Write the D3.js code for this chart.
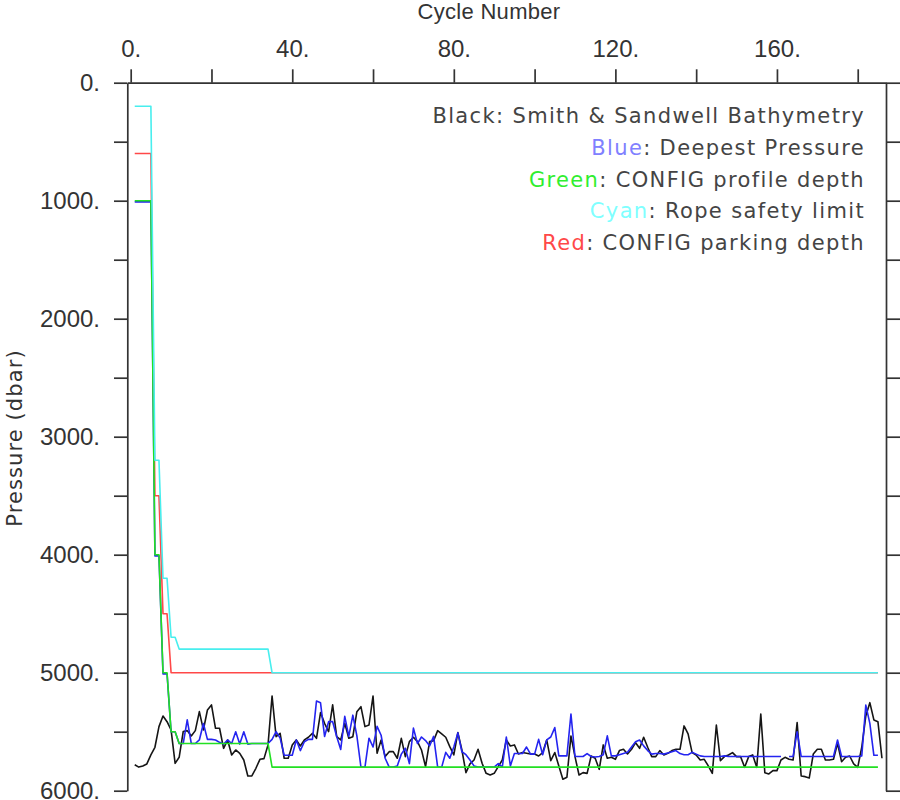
<!DOCTYPE html>
<html><head><meta charset="utf-8">
<script src="https://cdn.jsdelivr.net/npm/d3@7"></script>
<style>body{margin:0;background:#fff} svg{display:block}</style>
</head><body><svg id="chart" width="900" height="800"></svg>
<script>
// ---- data (cycle number = index + 1) ----
const bathymetry = [
 5780,5800,5790,5773,5697,5632,5457,5367,5415,5485, 5768,5717,5499,5491,5536,5491,5330,5485,5316,5273,
 5471,5471,5641,5570,5697,5655,5683,5740,5875,5875, 5810,5734,5728,5612,5197,5542,5514,5725,5725,5612,
 5570,5621,5570,5547,5514,5556,5338,5429,5499,5273, 5542,5570,5429,5556,5542,5330,5288,5457,5443,5197,
 5683,5570,5711,5669,5669,5725,5556,5711,5584,5547, 5584,5655,5796,5584,5576,5491,5519,5547,5627,5697,
 5508,5655,5847,5773,5740,5649,5768,5853,5867,5853, 5796,5740,5570,5621,5612,5689,5677,5683,5689,5689,
 5706,5677,5570,5745,5677,5790,5903,5886,5536,5711, 5867,5847,5853,5706,5725,5819,5612,5725,5717,5734,
 5660,5649,5689,5649,5593,5641,5547,5632,5711,5711, 5660,5697,5683,5660,5649,5649,5451,5519,5677,5697,
 5740,5734,5790,5853,5443,5745,5711,5697,5677,5711, 5711,5802,5711,5697,5802,5350,5847,5858,5830,5830,
 5740,5717,5734,5740,5423,5875,5881,5892,5689,5649, 5649,5740,5740,5734,5598,5754,5717,5706,5773,5802,
 5632,5367,5254,5400,5415,5725
];
const deepestPressure = [
 1010,1010,1010,1010,1010,4010,4010,5010,5010,5500, 5500,5600,5600,5400,5600,5600,5570,5430,5565,5565,
 5570,5590,5605,5570,5600,5500,5605,5500,5605,5600, 5600,5600,5600,5600,5565,5500,5555,5700,5700,5700,
 5570,5660,5585,5565,5565,5240,5255,5540,5415,5415, 5540,5650,5370,5540,5360,5535,5800,5800,5555,5630,
 5455,5530,5725,5800,5800,5790,5690,5640,5770,5470, 5600,5545,5575,5620,5540,5800,5800,5675,5725,5630,
 5510,5670,5695,5740,5790,5800,5800,5800,5800,5800, 5770,5800,5545,5790,5685,5685,5685,5630,5690,5690,
 5565,5695,5570,5545,5465,5705,5705,5705,5350,5710, 5710,5710,5685,5710,5715,5710,5695,5535,5705,5705,
 5695,5685,5675,5630,5585,5570,5620,5660,5690,5685, 5685,5690,5680,5670,5660,5685,5695,5695,5675,5690,
 5705,5710,5710,5710,5710,5710,5705,5710,5710,5710, 5710,5710,5710,5710,5710,5710,5710,5710,5710,5710,
 5710,null,5710,5710,5500,5710,5710,5710,5710,5710, 5710,5710,5710,5710,5570,5710,5710,5710,5710,5710,
 5705,5275,5430,5700,5700
];
const profileDepth = [
 1000,1000,1000,1000,1000,4000,4000,5000,5000,5500, 5500,5600,5600,5600,5600,5600,5600,5600,5600,5600,
 5600,5600,5600,5600,5600,5600,5600,5600,5600,5600, 5600,5600,5600,5600,5800,5800,5800,5800,5800,5800,
 5800,5800,5800,5800,5800,5800,5800,5800,5800,5800, 5800,5800,5800,5800,5800,5800,5800,5800,5800,5800,
 5800,5800,5800,5800,5800,5800,5800,5800,5800,5800, 5800,5800,5800,5800,5800,5800,5800,5800,5800,5800,
 5800,5800,5800,5800,5800,5800,5800,5800,5800,5800, 5800,5800,5800,5800,5800,5800,5800,5800,5800,5800,
 5800,5800,5800,5800,5800,5800,5800,5800,5800,5800, 5800,5800,5800,5800,5800,5800,5800,5800,5800,5800,
 5800,5800,5800,5800,5800,5800,5800,5800,5800,5800, 5800,5800,5800,5800,5800,5800,5800,5800,5800,5800,
 5800,5800,5800,5800,5800,5800,5800,5800,5800,5800, 5800,5800,5800,5800,5800,5800,5800,5800,5800,5800,
 5800,5800,5800,5800,5800,5800,5800,5800,5800,5800, 5800,5800,5800,5800,5800,5800,5800,5800,5800,5800,
 5800,5800,5800,5800,5800
];
const ropeLimit = [
 200,200,200,200,200,3200,3200,4200,4200,4700, 4700,4800,4800,4800,4800,4800,4800,4800,4800,4800,
 4800,4800,4800,4800,4800,4800,4800,4800,4800,4800, 4800,4800,4800,4800,5000,5000,5000,5000,5000,5000,
 5000,5000,5000,5000,5000,5000,5000,5000,5000,5000, 5000,5000,5000,5000,5000,5000,5000,5000,5000,5000,
 5000,5000,5000,5000,5000,5000,5000,5000,5000,5000, 5000,5000,5000,5000,5000,5000,5000,5000,5000,5000,
 5000,5000,5000,5000,5000,5000,5000,5000,5000,5000, 5000,5000,5000,5000,5000,5000,5000,5000,5000,5000,
 5000,5000,5000,5000,5000,5000,5000,5000,5000,5000, 5000,5000,5000,5000,5000,5000,5000,5000,5000,5000,
 5000,5000,5000,5000,5000,5000,5000,5000,5000,5000, 5000,5000,5000,5000,5000,5000,5000,5000,5000,5000,
 5000,5000,5000,5000,5000,5000,5000,5000,5000,5000, 5000,5000,5000,5000,5000,5000,5000,5000,5000,5000,
 5000,5000,5000,5000,5000,5000,5000,5000,5000,5000, 5000,5000,5000,5000,5000,5000,5000,5000,5000,5000,
 5000,5000,5000,5000,5000
];
const parkingDepth = [
 600,600,600,600,600,3500,3500,4500,4500,5000, 5000,5000,5000,5000,5000,5000,5000,5000,5000,5000,
 5000,5000,5000,5000,5000,5000,5000,5000,5000,5000, 5000,5000,5000,5000,5000,5000,5000,5000,5000,5000,
 5000,5000,5000,5000,5000,5000,5000,5000,5000,5000, 5000,5000,5000,5000,5000,5000,5000,5000,5000,5000,
 5000,5000,5000,5000,5000,5000,5000,5000,5000,5000, 5000,5000,5000,5000,5000,5000,5000,5000,5000,5000,
 5000,5000,5000,5000,5000,5000,5000,5000,5000,5000, 5000,5000,5000,5000,5000,5000,5000,5000,5000,5000,
 5000,5000,5000,5000,5000,5000,5000,5000,5000,5000, 5000,5000,5000,5000,5000,5000,5000,5000,5000,5000,
 5000,5000,5000,5000,5000,5000,5000,5000,5000,5000, 5000,5000,5000,5000,5000,5000,5000,5000,5000,5000,
 5000,5000,5000,5000,5000,5000,5000,5000,5000,5000, 5000,5000,5000,5000,5000,5000,5000,5000,5000,5000,
 5000,5000,5000,5000,5000,5000,5000,5000,5000,5000, 5000,5000,5000,5000,5000,5000,5000,5000,5000,5000,
 5000,5000,5000,5000,5000
];
const xTicks = [0,20,40,60,80,100,120,140,160,180];
const xTickLabels = ["0.","","40.","","80.","","120.","","160.",""];
const yTicks = [0,500,1000,1500,2000,2500,3000,3500,4000,4500,5000,5500,6000];
const yTickLabels = ["0.","","1000.","","2000.","","3000.","","4000.","","5000.","","6000."];
const legendLines = [
  {key:"Black", rest:": Smith & Sandwell Bathymetry", color:"#444"},
  {key:"Blue", rest:": Deepest Pressure", color:"#8080ff"},
  {key:"Green", rest:": CONFIG profile depth", color:"#30ee30"},
  {key:"Cyan", rest:": Rope safety limit", color:"#80ffff"},
  {key:"Red", rest:": CONFIG parking depth", color:"#ff4848"}
];

// ---- layout ----
const svg = d3.select("#chart");
const L = 127.3, R = 886, T = 82.7, B = 790.7;
const x = d3.scaleLinear().domain([-0.84, 187]).range([L, R]);
const y = d3.scaleLinear().domain([0, 6000]).range([T, B]);
const axisColor = "#333";
const tickFont = "'Liberation Sans', Arial, sans-serif";
const textFont = "'DejaVu Sans', sans-serif";

function styleAxis(g){
  g.selectAll("path.domain").attr("stroke", axisColor).attr("stroke-width", 1.7);
  g.selectAll(".tick line").attr("stroke", axisColor).attr("stroke-width", 1.7);
  g.selectAll(".tick text").attr("fill", "#333").style("font-family", tickFont).style("font-size", "24px");
}

// top axis
svg.append("g").attr("transform", `translate(0,${T})`)
  .call(d3.axisTop(x).tickValues(xTicks).tickSize(13.4).tickSizeOuter(0).tickPadding(12.3)
        .tickFormat((d,i) => xTickLabels[i]))
  .call(styleAxis);

// left axis
svg.append("g").attr("transform", `translate(${L},0)`)
  .call(d3.axisLeft(y).tickValues(yTicks).tickSize(13.3).tickSizeOuter(0).tickPadding(14)
        .tickFormat((d,i) => yTickLabels[i]))
  .call(styleAxis)
  .call(g => g.selectAll(".tick text").attr("dy", "0.33em"));

// right axis
svg.append("g").attr("transform", `translate(${R},0)`)
  .call(d3.axisRight(y).tickValues(yTicks).tickSize(14).tickSizeOuter(0).tickFormat(""))
  .call(styleAxis);

// axis titles
svg.append("text").attr("x", 489).attr("y", 19).attr("text-anchor", "middle")
  .style("font-family", tickFont).style("font-size", "22px").attr("fill", "#333")
  .style("letter-spacing", "0.3px").text("Cycle Number");
svg.append("text").attr("transform", "translate(22,438) rotate(-90)").attr("text-anchor", "middle")
  .style("font-family", textFont).style("font-size", "21px").attr("fill", "#333")
  .style("letter-spacing", "1.1px").text("Pressure (dbar)");

// lines
const line = d3.line().defined(d => d != null).x((d,i) => x(i + 1)).y(d => y(d));
const series = [
  {data: bathymetry, color: "#151515"},
  {data: deepestPressure, color: "#2424f0"},
  {data: parkingDepth, color: "#ff4848"},
  {data: profileDepth, color: "#22e022"},
  {data: ropeLimit, color: "#48eeee"}
];
svg.append("g").selectAll("path").data(series).join("path")
  .attr("d", s => line(s.data))
  .attr("fill", "none").attr("stroke", s => s.color).attr("stroke-width", 1.6)
  .attr("stroke-linejoin", "round");

// legend
const lg = svg.append("g");
legendLines.forEach((l, i) => {
  const t = lg.append("text").attr("x", 865).attr("y", 123.3 + i * 31.7).attr("text-anchor", "end")
    .style("font-family", textFont).style("font-size", "21px").style("letter-spacing", "1.35px");
  t.append("tspan").attr("fill", l.color).text(l.key);
  t.append("tspan").attr("fill", "#444").text(l.rest);
});
</script></body></html>
